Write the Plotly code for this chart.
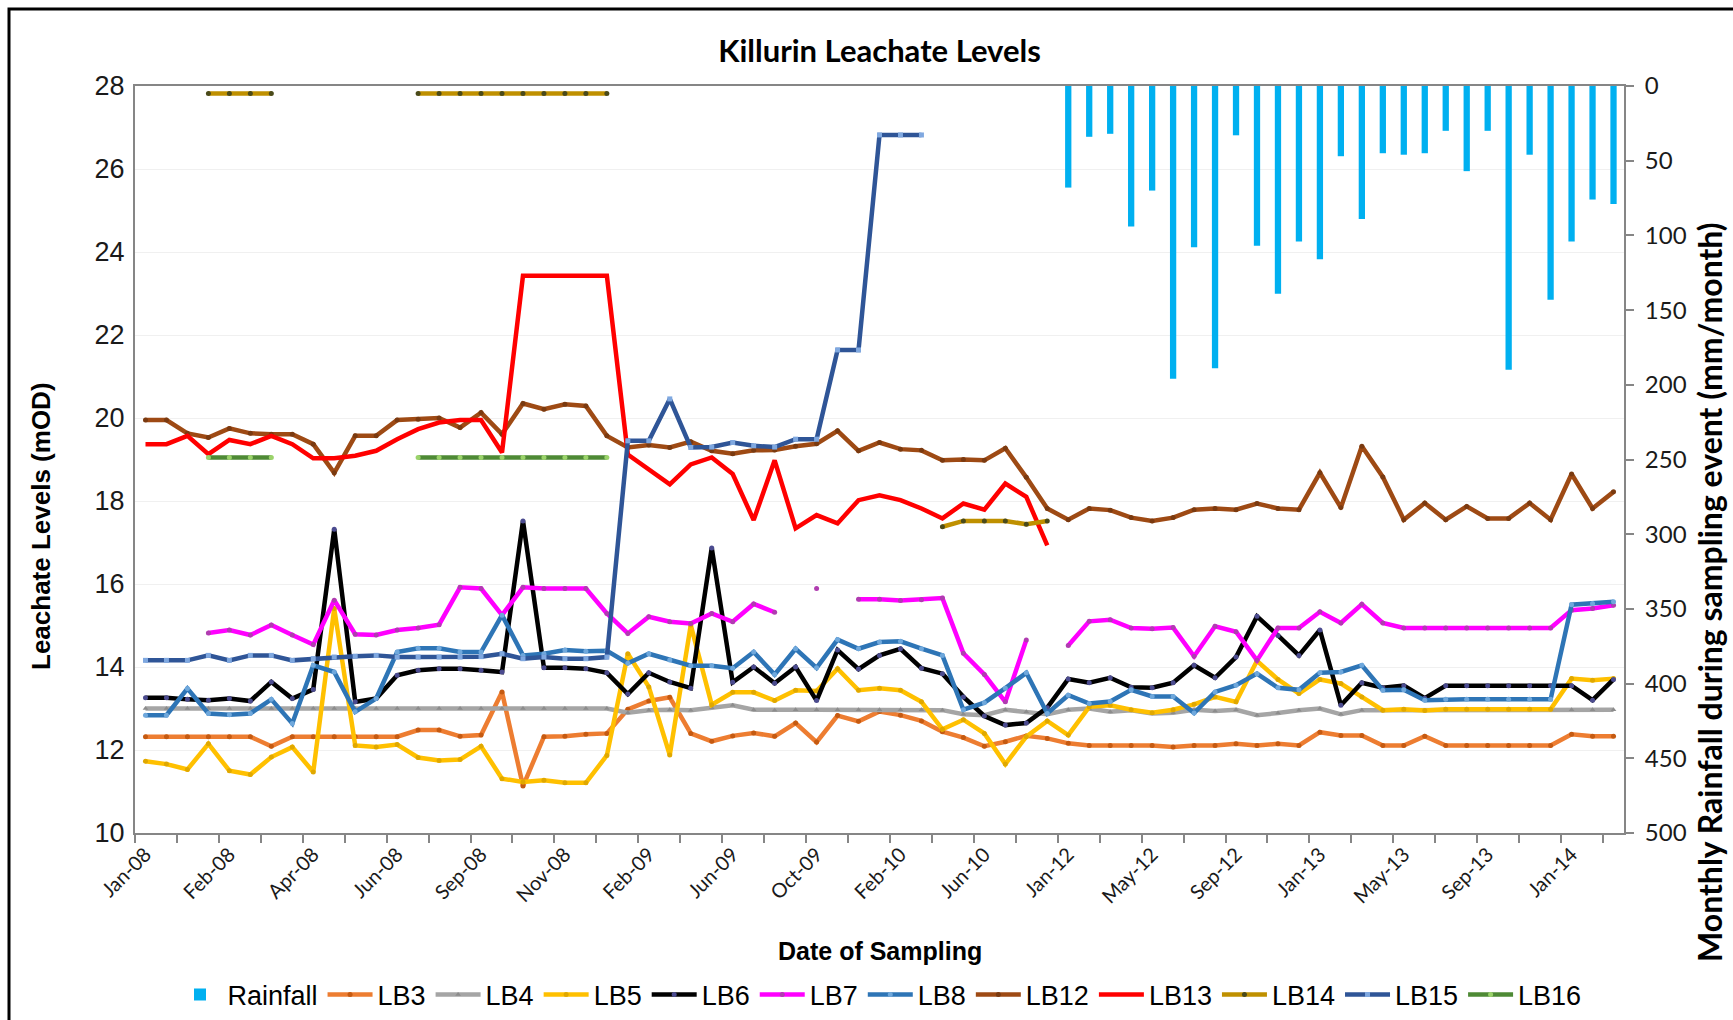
import plotly.graph_objects as go

# ---------------- data ----------------
tick_labels = ["Jan-08", "Feb-08", "Apr-08", "Jun-08", "Sep-08", "Nov-08", "Feb-09", "Jun-09",
               "Oct-09", "Feb-10", "Jun-10", "Jan-12", "May-12", "Sep-12", "Jan-13", "May-13",
               "Sep-13", "Jan-14"]
N_SAMPLES = 71          # sampling events on the category axis
LABEL_EVERY = 4         # a date label is printed every 4th sampling event

N = None
rainfall = [N]*44 + [68, 34, 32, 94, 70, 196, 108, 189, 33, 107, 139, 104, 116, 47, 89, 45,
                     46, 45, 30, 57, 30, 190, 46, 143, 104, 76, 79]

LB3 = [12.32, 12.32, 12.32, 12.32, 12.32, 12.32, 12.09, 12.32, 12.32, 12.32,
       12.32, 12.32, 12.32, 12.48, 12.48, 12.33, 12.36, 13.40, 11.13, 12.32,
       12.33, 12.38, 12.40, 12.98, 13.18, 13.27, 12.40, 12.21, 12.34, 12.41,
       12.33, 12.65, 12.19, 12.83, 12.69, 12.93, 12.84, 12.70, 12.44, 12.30,
       12.09, 12.20, 12.34, 12.28, 12.16, 12.11, 12.11, 12.11, 12.11, 12.07,
       12.11, 12.11, 12.15, 12.11, 12.15, 12.11, 12.43, 12.35, 12.35, 12.11,
       12.11, 12.33, 12.11, 12.11, 12.11, 12.11, 12.11, 12.11, 12.38, 12.33,
       12.33]

LB4 = [13.00, 13.00, 13.00, 13.00, 13.00, 13.00, 13.00, 13.00, 13.00, 13.00,
       13.00, 13.00, 13.00, 13.00, 13.00, 13.00, 13.00, 13.00, 13.00, 13.00,
       13.00, 13.00, 13.00, 12.90, 12.96, 12.97, 12.96, 13.02, 13.08, 12.97,
       12.96, 12.97, 12.97, 12.97, 12.97, 12.97, 12.97, 12.97, 12.96, 12.86,
       12.84, 12.97, 12.92, 12.86, 12.97, 13.00, 12.92, 12.96, 12.88, 12.90,
       12.97, 12.94, 12.97, 12.84, 12.89, 12.96, 13.00, 12.86, 12.96, 12.96,
       12.97, 12.95, 12.97, 12.97, 12.97, 12.97, 12.97, 12.97, 12.97, 12.97,
       12.97]

LB5 = [11.73, 11.66, 11.53, 12.15, 11.50, 11.41, 11.83, 12.07, 11.47, 15.41,
       12.11, 12.07, 12.13, 11.82, 11.75, 11.77, 12.09, 11.31, 11.23, 11.27,
       11.21, 11.21, 11.87, 14.32, 13.52, 11.88, 15.01, 13.09, 13.39, 13.39,
       13.19, 13.44, 13.42, 13.96, 13.44, 13.49, 13.44, 13.16, 12.50, 12.73,
       12.40, 11.66, 12.32, 12.70, 12.36, 13.04, 13.08, 12.97, 12.90, 12.97,
       13.10, 13.28, 13.16, 14.15, 13.70, 13.36, 13.70, 13.60, 13.28, 12.96,
       12.98, 12.95, 12.98, 12.98, 12.98, 12.98, 12.98, 12.98, 13.72, 13.68,
       13.72]

LB6 = [13.26, 13.26, 13.22, 13.20, 13.24, 13.18, 13.64, 13.24, 13.46, 17.32,
       13.16, 13.24, 13.80, 13.92, 13.96, 13.96, 13.92, 13.88, 17.52, 13.98,
       13.98, 13.96, 13.86, 13.35, 13.86, 13.64, 13.49, 16.87, 13.63, 14.00,
       13.61, 14.00, 13.19, 14.41, 13.95, 14.28, 14.44, 13.97, 13.84, 13.28,
       12.82, 12.60, 12.65, 13.02, 13.71, 13.62, 13.74, 13.51, 13.50, 13.62,
       14.04, 13.74, 14.24, 15.22, 14.76, 14.28, 14.89, 13.08, 13.62, 13.50,
       13.55, 13.25, 13.55, 13.55, 13.55, 13.55, 13.55, 13.55, 13.55, 13.20,
       13.70]

LB7 = [N, N, N, 14.82, 14.89, 14.77, 15.01, 14.77, 14.54, 15.61,
       14.79, 14.77, 14.89, 14.94, 15.02, 15.92, 15.89, 15.25, 15.92, 15.89,
       15.89, 15.89, 15.29, 14.81, 15.21, 15.09, 15.05, 15.29, 15.09, 15.52,
       15.32, N, 15.89, N, 15.63, 15.63, 15.60, 15.62, 15.66, 14.33,
       13.82, 13.16, 14.65, N, 14.52, 15.10, 15.14, 14.94, 14.92, 14.95,
       14.26, 14.98, 14.85, 14.16, 14.94, 14.94, 15.33, 15.06, 15.51, 15.06,
       14.94, 14.94, 14.94, 14.94, 14.94, 14.94, 14.94, 14.94, 15.37, 15.41,
       15.49]

LB8 = [12.84, 12.84, 13.48, 12.88, 12.85, 12.88, 13.22, 12.64, 14.04, 13.88,
       12.92, 13.24, 14.36, 14.45, 14.45, 14.36, 14.36, 15.25, 14.28, 14.32,
       14.41, 14.38, 14.39, 14.09, 14.32, 14.17, 14.03, 14.03, 13.97, 14.36,
       13.82, 14.44, 13.98, 14.66, 14.44, 14.60, 14.62, 14.44, 14.28, 12.97,
       13.14, 13.49, 13.86, 12.88, 13.32, 13.12, 13.17, 13.45, 13.29, 13.29,
       12.89, 13.40, 13.56, 13.84, 13.50, 13.45, 13.86, 13.88, 14.04, 13.44,
       13.45, 13.20, 13.22, 13.22, 13.22, 13.22, 13.22, 13.22, 15.50, 15.53,
       15.57]

LB12 = [19.95, 19.95, 19.63, 19.53, 19.75, 19.63, 19.61, 19.61, 19.37, 18.68,
        19.57, 19.57, 19.95, 19.97, 20.00, 19.77, 20.13, 19.61, 20.35, 20.21,
        20.33, 20.29, 19.57, 19.29, 19.35, 19.29, 19.43, 19.21, 19.14, 19.22,
        19.23, 19.32, 19.38, 19.69, 19.21, 19.41, 19.25, 19.22, 18.98, 19.00,
        18.98, 19.27, 18.57, 17.82, 17.55, 17.82, 17.78, 17.60, 17.52, 17.60,
        17.79, 17.82, 17.79, 17.94, 17.82, 17.79, 18.68, 17.84, 19.32, 18.58,
        17.55, 17.95, 17.55, 17.87, 17.58, 17.58, 17.95, 17.55, 18.65, 17.82,
        18.22]

LB13 = [19.37, 19.37, 19.57, 19.13, 19.47, 19.37, 19.57, 19.37, 19.03, 19.03,
        19.09, 19.21, 19.49, 19.73, 19.89, 19.95, 19.95, 19.17, 23.43, 23.43,
        23.43, 23.43, 23.43, 19.12, 18.77, 18.40, 18.88, 19.05, 18.65, 17.54,
        18.98, 17.34, 17.66, 17.46, 18.02, 18.14, 18.02, 17.82, 17.58, 17.94,
        17.79, 18.42, 18.10, 16.93, N, N, N, N, N, N,
        N, N, N, N, N, N, N, N, N, N,
        N, N, N, N, N, N, N, N, N, N,
        N]

LB14 = [N, N, N, 27.82, 27.82, 27.82, 27.82, N, N, N,
        N, N, N, 27.82, 27.82, 27.82, 27.82, 27.82, 27.82, 27.82,
        27.82, 27.82, 27.82, N, N, N, N, N, N, N,
        N, N, N, N, N, N, N, N, 17.38, 17.52,
        17.52, 17.52, 17.44, 17.52, N, N, N, N, N, N,
        N, N, N, N, N, N, N, N, N, N,
        N, N, N, N, N, N, N, N, N, N,
        N]

LB15 = [14.16, 14.16, 14.16, 14.28, 14.16, 14.28, 14.28, 14.16, 14.20, 14.24,
        14.26, 14.28, 14.24, 14.24, 14.24, 14.24, 14.25, 14.32, 14.20, 14.24,
        14.20, 14.20, 14.24, 19.45, 19.45, 20.46, 19.29, 19.30, 19.41, 19.33,
        19.30, 19.49, 19.49, 21.64, 21.64, 26.82, 26.82, 26.82, N, N,
        N, N, N, N, N, N, N, N, N, N,
        N, N, N, N, N, N, N, N, N, N,
        N, N, N, N, N, N, N, N, N, N,
        N]

LB16 = [N, N, N, 19.05, 19.05, 19.05, 19.05, N, N, N,
        N, N, N, 19.05, 19.05, 19.05, 19.05, 19.05, 19.05, 19.05,
        19.05, 19.05, 19.05, N, N, N, N, N, N, N,
        N, N, N, N, N, N, N, N, N, N,
        N, N, N, N, N, N, N, N, N, N,
        N, N, N, N, N, N, N, N, N, N,
        N, N, N, N, N, N, N, N, N, N,
        N]

# ---------------- figure ----------------
x = list(range(N_SAMPLES))
W, H = 1733, 1020
ML, MR, MT, MB = 135, 109, 86, 187
PW, PH = W - ML - MR, H - MT - MB


def px_x(v):   # pixel -> paper x
    return (v - ML) / PW


def px_y(v):   # pixel -> paper y
    return (H - MB - v) / PH


fig = go.Figure()
fig.add_trace(go.Bar(x=x, y=rainfall, name="Rainfall", yaxis="y2", width=0.3,
                     marker=dict(color="#00B0F0", line=dict(width=0))))

series = [
    ("LB3", LB3, "#ED7D31", "#C55A11", "circle", True),
    ("LB4", LB4, "#A5A5A5", "#8C8C8C", "triangle-up", True),
    ("LB5", LB5, "#FFC000", "#E0A800", "circle", True),
    ("LB6", LB6, "#000000", "#4B4B8F", "circle", True),
    ("LB7", LB7, "#FF00FF", "#B03CB0", "circle", True),
    ("LB8", LB8, "#2E75B6", "#6FA8DC", "circle", True),
    ("LB12", LB12, "#9E4A14", "#7A3A10", "circle", True),
    ("LB13", LB13, "#FF0000", "#FF0000", "circle", False),
    ("LB14", LB14, "#BF9000", "#4A4A1A", "circle", True),
    ("LB15", LB15, "#2F5597", "#7FA8E0", "square", True),
    ("LB16", LB16, "#4E8A35", "#9BD36B", "circle", True),
]
for name, vals, col, mcol, sym, mk in series:
    fig.add_trace(go.Scatter(
        x=x, y=vals, name=name, mode="lines+markers" if mk else "lines",
        connectgaps=False,
        line=dict(color=col, width=4.5),
        marker=dict(color=mcol, size=5, symbol=sym, line=dict(width=0)),
    ))

axis_grey = "#868686"
fig.update_layout(
    width=W, height=H,
    margin=dict(l=ML, r=MR, t=MT, b=MB, autoexpand=False),
    paper_bgcolor="white", plot_bgcolor="white",
    font=dict(family="Liberation Sans, Arial, sans-serif", color="#000000"),
    title=dict(text="<b>Killurin Leachate Levels</b>", x=0.5, xref="paper",
               y=1 - 51 / H, yref="container", yanchor="middle", xanchor="center",
               font=dict(family="Lato, Open Sans, sans-serif", size=31, color="#000000")),
    xaxis=dict(
        range=[-0.5, N_SAMPLES - 0.5],
        tickmode="array",
        tickvals=list(range(0, N_SAMPLES, LABEL_EVERY))[:len(tick_labels)],
        ticktext=tick_labels,
        tickangle=-45, ticks="",
        tickfont=dict(family="Lato, Open Sans, sans-serif", size=20, color="#1a1a1a"),
        showline=True, linecolor=axis_grey, linewidth=2, mirror=True,
        showgrid=False, zeroline=False, automargin=False,
        minor=dict(tickmode="array", tickvals=[k - 0.5 for k in range(0, N_SAMPLES + 1, 2)],
                   ticks="outside", ticklen=8, tickwidth=2, tickcolor=axis_grey, showgrid=False),
    ),
    yaxis=dict(
        range=[10, 28], dtick=2, tick0=10,
        tickfont=dict(family="Liberation Sans, Arial, sans-serif", size=27, color="#1a1a1a"),
        showline=True, linecolor=axis_grey, linewidth=2,
        showgrid=True, gridcolor="#F0F0F0", gridwidth=1, zeroline=False,
        ticks="", ticklabelstandoff=3, automargin=False,
    ),
    yaxis2=dict(
        overlaying="y", side="right", range=[500, 0], dtick=50, tick0=0,
        tickfont=dict(family="Lato, Open Sans, sans-serif", size=24, color="#1a1a1a"),
        showline=True, linecolor=axis_grey, linewidth=2,
        showgrid=False, zeroline=False, automargin=False,
        ticks="outside", ticklen=8, tickwidth=2, tickcolor=axis_grey, ticklabelstandoff=6,
    ),
    legend=dict(orientation="h", x=0.5, xanchor="center", y=px_y(995), yanchor="middle",
                font=dict(family="Liberation Sans Narrow, Arial Narrow, Liberation Sans, sans-serif",
                          size=27, color="#000000"),
                itemwidth=45, tracegroupgap=0, bgcolor="rgba(0,0,0,0)"),
    showlegend=True,
    bargap=0.7,
)

fig.add_annotation(text="<b>Leachate Levels (mOD)</b>", textangle=-90, showarrow=False,
                   xref="paper", yref="paper", x=px_x(41), y=px_y(526),
                   xanchor="center", yanchor="middle",
                   font=dict(family="Liberation Sans, Arial, sans-serif", size=26, color="#000000"))
fig.add_annotation(text="<b>Date of Sampling</b>", showarrow=False,
                   xref="paper", yref="paper", x=0.5, y=px_y(951),
                   xanchor="center", yanchor="middle",
                   font=dict(family="Liberation Sans, Arial, sans-serif", size=25, color="#000000"))
fig.add_annotation(text="<b>Monthly Rainfall during sampling event (mm/month)</b>", textangle=-90,
                   showarrow=False, xref="paper", yref="paper", x=px_x(1709), y=px_y(592),
                   xanchor="center", yanchor="middle",
                   font=dict(family="Lato, Open Sans, sans-serif", size=32, color="#000000"))

# outer chart-area frame
fig.add_shape(type="rect", xref="paper", yref="paper",
              x0=px_x(9), x1=px_x(W + 20), y0=px_y(H + 20), y1=px_y(9),
              line=dict(color="#000000", width=3), fillcolor="rgba(0,0,0,0)", layer="below")

fig.write_html("out.html", config={"displayModeBar": False},
               post_script="document.body.style.margin='0';document.body.style.overflow='hidden';")
